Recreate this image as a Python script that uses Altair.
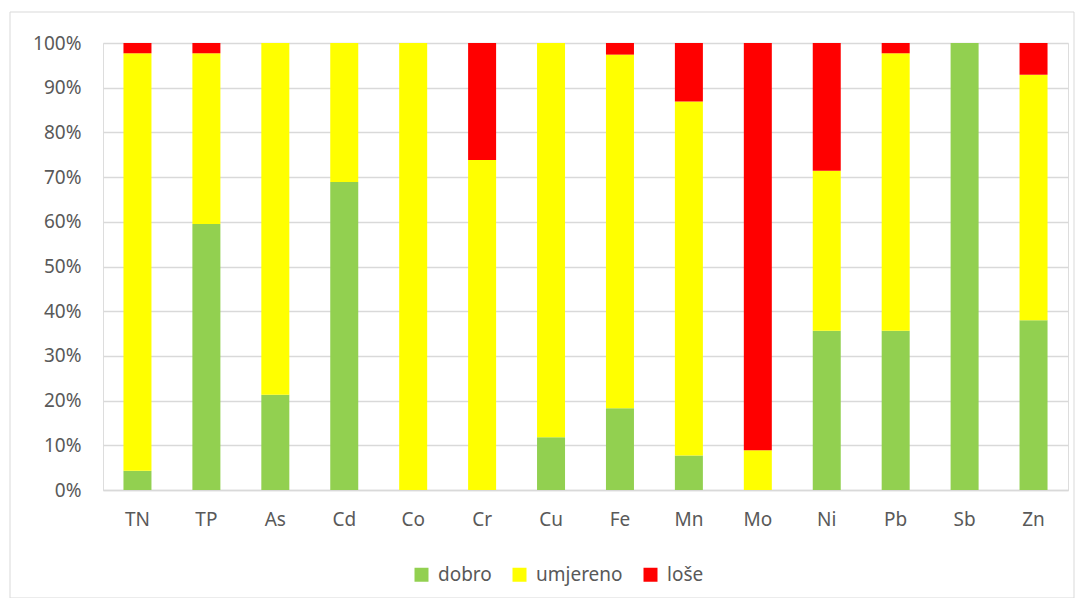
import altair as alt
import pandas as pd

categories = ["TN", "TP", "As", "Cd", "Co", "Cr", "Cu", "Fe", "Mn", "Mo", "Ni", "Pb", "Sb", "Zn"]
dobro = [4.3, 59.5, 21.3, 68.9, 0.0, 0.0, 11.8, 18.3, 7.7, 0.0, 35.6, 35.6, 100.0, 38.0]
umjereno = [93.4, 38.2, 78.7, 31.1, 100.0, 73.8, 88.2, 79.1, 79.2, 8.9, 35.8, 62.1, 0.0, 54.9]
lose = [2.3, 2.3, 0.0, 0.0, 0.0, 26.2, 0.0, 2.6, 13.1, 91.1, 28.6, 2.3, 0.0, 7.1]

series = ["dobro", "umjereno", "loše"]
colors = ["#92D050", "#FFFF00", "#FF0000"]

rows = []
for i, c in enumerate(categories):
    for k, (s, vals) in enumerate(zip(series, [dobro, umjereno, lose])):
        rows.append({"cat": c, "serie": s, "val": vals[i] / 100.0, "ord": k})
df = pd.DataFrame(rows)

W, H = 965, 447

bars = alt.Chart(df).mark_bar(size=28).encode(
    x=alt.X("cat:N", sort=categories, title=None,
            scale=alt.Scale(paddingInner=0.59, paddingOuter=0.295),
            axis=alt.Axis(labelAngle=0, labelFontSize=19, labelColor="#595959",
                          labelFont="Noto Sans", labelPadding=20, ticks=False,
                          domainColor="#d9d9d9", domainWidth=1.3, grid=False)),
    y=alt.Y("val:Q", stack="zero", title=None,
            scale=alt.Scale(domain=[0, 1], nice=False),
            axis=alt.Axis(format=".0%", values=[i / 10 for i in range(11)],
                          labelFontSize=19, labelColor="#595959", labelFont="Noto Sans",
                          labelPadding=22, ticks=False, domain=False,
                          gridColor="#d9d9d9", gridWidth=1.3)),
    color=alt.Color("serie:N", sort=series,
                    scale=alt.Scale(domain=series, range=colors),
                    legend=alt.Legend(title=None, orient="none", direction="horizontal",
                                      legendX=309, legendY=522, symbolType="square",
                                      symbolSize=196, symbolStrokeWidth=0,
                                      labelFontSize=19, labelColor="#595959",
                                      labelFont="Noto Sans", columnPadding=18,
                                      labelOffset=7, symbolOpacity=1)),
    order=alt.Order("ord:Q", sort="ascending"),
)

border = alt.Chart(pd.DataFrame({"a": [0]})).mark_rect(
    fill=None, stroke="#d9d9d9", strokeWidth=1, clip=False
).encode(x=alt.value(-93), x2=alt.value(W + 6), y=alt.value(-31), y2=alt.value(H + 108))

chart = alt.layer(border, bars).properties(
    width=W, height=H,
    autosize=alt.AutoSizeParams(type="none"),
    padding={"left": 95, "top": 35, "right": 7, "bottom": 108},
).configure_view(stroke=None).configure(background="white")

chart.save("out.html", embed_options={"renderer": "svg", "actions": False})
